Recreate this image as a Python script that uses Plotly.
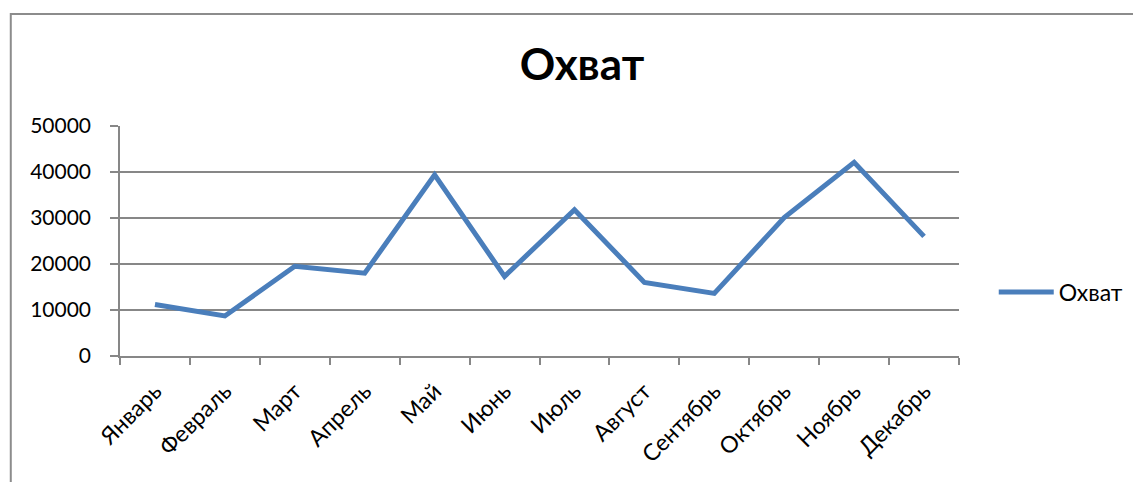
import plotly.graph_objects as go

months = ["Январь", "Февраль", "Март", "Апрель", "Май", "Июнь", "Июль",
          "Август", "Сентябрь", "Октябрь", "Ноябрь", "Декабрь"]
reach = [11200, 8700, 19500, 18000, 39400, 17300, 31800, 16000, 13600, 30100, 42100, 26000]
series_name = "Охват"
title_text = "Охват"

# page has an 8px body margin; build the figure in page coordinates minus 8
OFF = 8
W, H = 1141 - OFF, 482 - OFF
L, R, T, B = 120 - OFF, 176, 126 - OFF, 126
pw, ph = W - L - R, H - T - B

FONT = "Lato, 'Open Sans', sans-serif"
GRID = "#878787"

fig = go.Figure()
fig.add_trace(go.Scatter(
    x=months, y=reach, name=series_name, mode="lines",
    line=dict(color="#4A7EBB", width=5),
))

fig.update_layout(
    width=W, height=H,
    margin=dict(l=L, r=R, t=T, b=B),
    paper_bgcolor="white", plot_bgcolor="white",
    font=dict(family=FONT, color="black", size=23),
    title=dict(text="<b>" + title_text + "</b>", x=(582 - OFF) / W, xanchor="center",
               y=1 - (65 - OFF) / H, yanchor="middle", xref="container", yref="container",
               font=dict(size=44, family=FONT, color="black")),
    showlegend=True,
    legend=dict(x=(1000 - OFF - L) / pw, y=(H - B - (292 - OFF)) / ph, xanchor="left", yanchor="middle",
                font=dict(size=23, family=FONT), bgcolor="rgba(0,0,0,0)", itemwidth=55),
    xaxis=dict(type="category", range=[-0.5, 11.5], showline=True, linecolor=GRID, linewidth=1.5,
               ticks="outside", tickson="boundaries", ticklen=7, tickcolor=GRID, tickwidth=1.5,
               tickangle=-45, showgrid=False, ticklabelstandoff=11,
               tickfont=dict(size=23)),
    yaxis=dict(range=[0, 50000], dtick=10000, tickformat="d", showline=True, linecolor=GRID, linewidth=1.5,
               ticks="outside", ticklen=8, tickcolor=GRID, tickwidth=1.5,
               showgrid=True, gridcolor=GRID, gridwidth=1.5, zeroline=False,
               ticklabelstandoff=15, tickfont=dict(size=21)),
    shapes=[dict(type="rect", xref="paper", yref="paper",
                 x0=(10 - OFF - L) / pw, x1=(W + 20 - L) / pw,
                 y0=-(H + 20 - (H - B)) / ph, y1=1 + (T - (14 - OFF)) / ph,
                 line=dict(color="#8C8C8C", width=2), layer="below")],
)

fig.write_html("out.html")
